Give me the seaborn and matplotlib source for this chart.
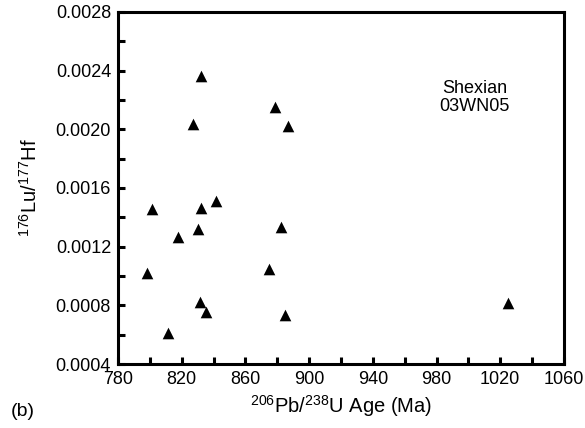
import matplotlib
matplotlib.use("Agg")
import matplotlib.pyplot as plt
from matplotlib.ticker import MultipleLocator
import seaborn as sns
import pandas as pd

# 206Pb/238U ages (Ma) and 176Lu/177Hf ratios of zircon spots
age = [832.4, 827.3, 878.4, 886.6, 801.5, 832.4, 841.8, 882.2, 817.9,
       830.5, 798.3, 874.6, 831.7, 835.5, 884.7, 811.5, 1024.8]
lu_hf = [0.002366, 0.002038, 0.002154, 0.002025, 0.001458, 0.001465,
         0.001513, 0.001335, 0.001267, 0.001322, 0.001021, 0.001048,
         0.000823, 0.000755, 0.000734, 0.000612, 0.000816]
x_ticks = [780, 820, 860, 900, 940, 980, 1020, 1060]
y_ticks = [0.0004, 0.0008, 0.0012, 0.0016, 0.0020, 0.0024, 0.0028]

df = pd.DataFrame({"age": age, "ratio": lu_hf})

sns.set_theme(style="white")
plt.rcParams["font.family"] = ["Liberation Sans", "DejaVu Sans"]
plt.rcParams["mathtext.fontset"] = "custom"
plt.rcParams["mathtext.rm"] = "Liberation Sans"
plt.rcParams["mathtext.it"] = "Liberation Sans:italic"
for key in ("text.color", "axes.labelcolor", "xtick.color", "ytick.color",
            "axes.edgecolor"):
    plt.rcParams[key] = "black"

fig = plt.figure(figsize=(5.85, 4.28), dpi=100)
ax = fig.add_axes([0.2017, 0.1495, 0.7623, 0.8225])

sns.scatterplot(data=df, x="age", y="ratio", marker="^", color="black",
                s=70, edgecolor="black", linewidth=0, ax=ax, legend=False)

ax.set_xlim(780, 1060)
ax.set_ylim(0.0004, 0.0028)
ax.set_xticks(x_ticks)
ax.set_yticks(y_ticks)
ax.set_xticklabels([str(v) for v in x_ticks])
ax.set_yticklabels([f"{v:.4f}" for v in y_ticks])
ax.xaxis.set_minor_locator(MultipleLocator(20))
ax.yaxis.set_minor_locator(MultipleLocator(0.0002))

for sp in ax.spines.values():
    sp.set_linewidth(2.2)
    sp.set_color("black")

ax.tick_params(axis="both", which="both", direction="in", width=2.2,
               color="black", top=False, right=False, left=True, bottom=True)
ax.tick_params(axis="both", which="major", length=5, labelsize=13)
ax.tick_params(axis="x", which="major", pad=5)
ax.tick_params(axis="y", which="major", pad=5)
ax.tick_params(axis="both", which="minor", length=5)

ax.set_xlabel(r"$^{206}$Pb/$^{238}$U Age (Ma)", fontsize=14.5, labelpad=4)
ax.set_ylabel(r"$^{176}$Lu/$^{177}$Hf", fontsize=14.5, labelpad=11)

ax.text(0.80, 0.757, "Shexian\n03WN05", transform=ax.transAxes,
        ha="center", va="center", fontsize=13, linespacing=1.1)
fig.text(0.018, 0.038, "(b)", fontsize=14, ha="left", va="center")

fig.savefig("out.png", dpi=100)
